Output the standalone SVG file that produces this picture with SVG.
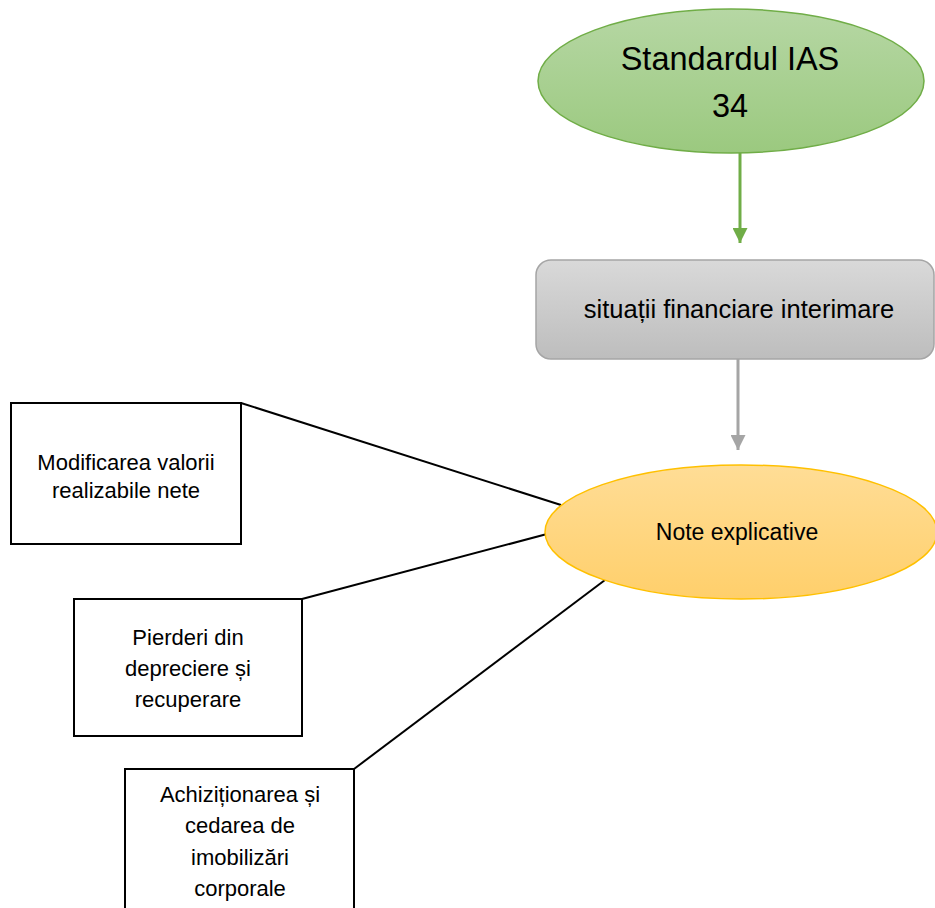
<svg xmlns="http://www.w3.org/2000/svg" width="935" height="908" viewBox="0 0 935 908">
<defs>
<linearGradient id="gGreen" x1="0" y1="0" x2="0" y2="1"><stop offset="0" stop-color="#b6d7a4"/><stop offset="1" stop-color="#9bc97f"/></linearGradient>
<linearGradient id="gGray" x1="0" y1="0" x2="0" y2="1"><stop offset="0" stop-color="#d9d9d9"/><stop offset="1" stop-color="#bdbdbd"/></linearGradient>
<linearGradient id="gOrange" x1="0" y1="0" x2="0" y2="1"><stop offset="0" stop-color="#ffdd96"/><stop offset="1" stop-color="#ffcf6b"/></linearGradient>
<marker id="arrGreen" viewBox="0 0 10 10" refX="10" refY="5" markerWidth="5" markerHeight="5" orient="auto" markerUnits="strokeWidth"><path d="M0,0 L10,5 L0,10 Z" fill="#70ad47"/></marker>
<marker id="arrGray" viewBox="0 0 10 10" refX="10" refY="5" markerWidth="5" markerHeight="5" orient="auto" markerUnits="strokeWidth"><path d="M0,0 L10,5 L0,10 Z" fill="#a5a5a5"/></marker>
</defs>
<style>
text{font-family:"Liberation Sans",Arial,sans-serif;fill:#000;text-anchor:middle}
.box{fill:#fff;stroke:#000;stroke-width:2}
.line{stroke:#000;stroke-width:2;fill:none}
.bt{font-size:22px}
</style>
<g id="connectors">
<line x1="740" y1="153" x2="740" y2="243" stroke="#70ad47" stroke-width="3" marker-end="url(#arrGreen)"/>
<line x1="738" y1="359" x2="738" y2="450" stroke="#a5a5a5" stroke-width="3" marker-end="url(#arrGray)"/>
<line class="line" x1="241" y1="403" x2="561" y2="505"/>
<line class="line" x1="302" y1="599" x2="547" y2="534"/>
<line class="line" x1="354" y1="769" x2="605" y2="580"/>
</g>
<g id="node-ias34">
<ellipse cx="731" cy="81" rx="193" ry="72" fill="url(#gGreen)" stroke="#70ad47" stroke-width="1.5"/>
<text x="730" y="70" font-size="32.5">Standardul IAS</text>
<text x="730" y="117" font-size="32.5">34</text>
</g>
<g id="node-situatii">
<rect x="536" y="260" width="398" height="99" rx="15" fill="url(#gGray)" stroke="#a5a5a5" stroke-width="1.5"/>
<text x="739" y="318" font-size="25.5">situații financiare interimare</text>
</g>
<g id="node-note">
<ellipse cx="741" cy="532" rx="196" ry="67" fill="url(#gOrange)" stroke="#ffc000" stroke-width="1.5"/>
<text x="737" y="540" font-size="23">Note explicative</text>
</g>
<g id="node-modificarea">
<rect class="box" x="11" y="403" width="230" height="141"/>
<text class="bt" x="126" y="470">Modificarea valorii</text>
<text class="bt" x="126" y="498">realizabile nete</text>
</g>
<g id="node-pierderi">
<rect class="box" x="74" y="599" width="228" height="137"/>
<text class="bt" x="188" y="645">Pierderi din</text>
<text class="bt" x="188" y="676">depreciere și</text>
<text class="bt" x="188" y="707">recuperare</text>
</g>
<g id="node-achizitionarea">
<rect class="box" x="125" y="769" width="229" height="150"/>
<text class="bt" x="240" y="802">Achiziționarea și</text>
<text class="bt" x="240" y="833">cedarea de</text>
<text class="bt" x="240" y="865">imobilizări</text>
<text class="bt" x="240" y="896">corporale</text>
</g>
</svg>
